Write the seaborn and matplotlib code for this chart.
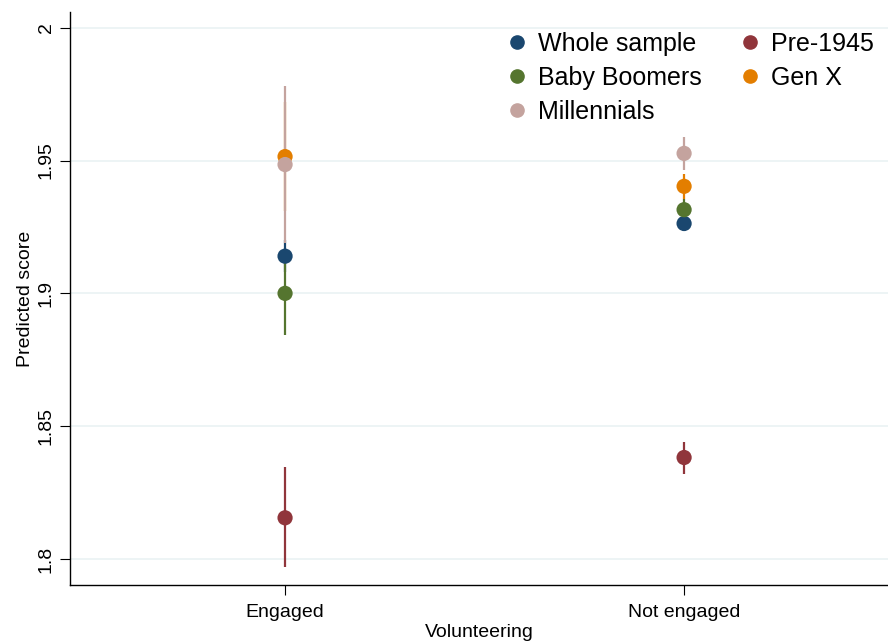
import matplotlib
matplotlib.use("Agg")
import matplotlib.pyplot as plt
import pandas as pd
import seaborn as sns
from matplotlib.lines import Line2D

# values
groups = ["Whole sample", "Pre-1945", "Baby Boomers", "Gen X", "Millennials"]
volunteering = ["Engaged", "Not engaged"]
est_engaged = [1.914, 1.8155, 1.900, 1.9515, 1.9485]
lo_engaged = [1.908, 1.797, 1.8845, 1.931, 1.919]
hi_engaged = [1.920, 1.8345, 1.9155, 1.972, 1.978]
est_not = [1.9263, 1.8382, 1.9315, 1.9403, 1.9527]
lo_not = [1.9233, 1.832, 1.9275, 1.9355, 1.9465]
hi_not = [1.9293, 1.8442, 1.9355, 1.945, 1.959]

colors = ["#1a476f", "#90353b", "#55752f", "#e37e00", "#c4a39e"]

df = pd.DataFrame({
    "Volunteering": [volunteering[0]] * 5 + [volunteering[1]] * 5,
    "group": groups * 2,
    "est": est_engaged + est_not,
    "lo": lo_engaged + lo_not,
    "hi": hi_engaged + hi_not,
})

sns.set_style("white")
plt.rcParams["font.family"] = ["Liberation Sans", "DejaVu Sans"]
plt.rcParams["text.color"] = "black"
plt.rcParams["axes.labelcolor"] = "black"

fig = plt.figure(figsize=(8.88, 6.43), dpi=100)
ax = fig.add_axes([0.0788, 0.0902, 0.9212, 0.891])

palette = dict(zip(groups, colors))

# confidence intervals first, points on top
for g in groups:
    sub = df[df["group"] == g]
    ax.vlines(sub["Volunteering"], sub["lo"], sub["hi"], color=palette[g], lw=1.6, zorder=2)

sns.scatterplot(data=df, x="Volunteering", y="est", hue="group", hue_order=groups,
                palette=palette, s=120, edgecolor="none", legend=False, ax=ax, zorder=3)

ax.set_xlim(-0.539, 1.511)
ax.set_ylim(1.7902, 2.0059)
ax.set_yticks([1.8, 1.85, 1.9, 1.95, 2])
ax.set_yticklabels(["1.8", "1.85", "1.9", "1.95", "2"], rotation=90, va="center")
ax.grid(axis="y", color="#eaf2f3", lw=1.2)
ax.set_axisbelow(True)

for s in ["top", "right"]:
    ax.spines[s].set_visible(False)
for s in ["left", "bottom"]:
    ax.spines[s].set_color("black")
    ax.spines[s].set_linewidth(1.0)

ax.tick_params(axis="both", direction="out", length=7, width=0.8, colors="black",
               labelsize=14, left=True, bottom=True)
ax.tick_params(axis="y", pad=4)
ax.tick_params(axis="x", pad=7)
ax.set_ylabel("Predicted score", fontsize=14, labelpad=3)
ax.set_xlabel("Volunteering", fontsize=14, labelpad=2)

# legend, filled row by row like the original
order = [0, 2, 4, 1, 3]
handles = [Line2D([], [], marker="o", ls="none", color=colors[i], markersize=9.5) for i in order]
labels = [groups[i] for i in order]
ax.legend(handles, labels, ncol=2, frameon=False, fontsize=18, loc="upper left",
          bbox_to_anchor=(504.5 / 888, 1 - 32 / 643), bbox_transform=fig.transFigure,
          handlelength=1.0, handletextpad=0.35, columnspacing=1.4,
          labelspacing=0.4, borderaxespad=0, borderpad=0)

plt.savefig("out.png", dpi=100)
